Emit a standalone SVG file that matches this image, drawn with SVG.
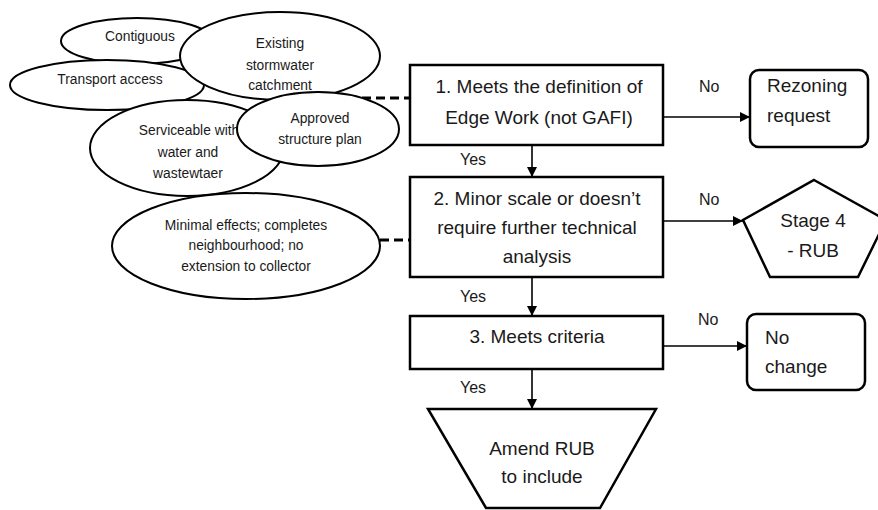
<svg xmlns="http://www.w3.org/2000/svg" width="878" height="510" viewBox="0 0 878 510">
<style>
.sh{fill:#fff;stroke:#000;stroke-width:2}
.bx{fill:#fff;stroke:#000;stroke-width:2.5}
.t{font-family:"Liberation Sans",Arial,sans-serif;fill:#1a1a1a}
.e{font-size:13.8px;text-anchor:middle}
.m{font-size:19px;text-anchor:middle}
.l{font-size:16px}
.ln{stroke:#000;stroke-width:1.6;fill:none}
.ds{stroke:#000;stroke-width:3;fill:none;stroke-dasharray:9 5}
</style>
<defs>
<marker id="ah" viewBox="0 0 10 10" refX="10" refY="5" markerWidth="10" markerHeight="10" markerUnits="userSpaceOnUse" orient="auto">
<path d="M0,0 L10,5 L0,10 Z" fill="#000"/>
</marker>
</defs>
<rect width="878" height="510" fill="#fff"/>
<g id="connectors">
<line class="ds" x1="362" y1="98" x2="410" y2="98"/>
<line class="ds" x1="380" y1="240" x2="410" y2="240"/>
<line class="ln" x1="663" y1="117" x2="750" y2="117" marker-end="url(#ah)"/>
<line class="ln" x1="532" y1="145" x2="532" y2="177" marker-end="url(#ah)"/>
<line class="ln" x1="663" y1="221" x2="743" y2="221" marker-end="url(#ah)"/>
<line class="ln" x1="532" y1="277" x2="532" y2="316" marker-end="url(#ah)"/>
<line class="ln" x1="663" y1="346" x2="747" y2="346" marker-end="url(#ah)"/>
<line class="ln" x1="532" y1="369" x2="532" y2="409" marker-end="url(#ah)"/>
<text class="t l" x="699" y="92">No</text>
<text class="t l" x="460" y="165">Yes</text>
<text class="t l" x="699" y="205">No</text>
<text class="t l" x="460" y="302">Yes</text>
<text class="t l" x="698" y="325">No</text>
<text class="t l" x="460" y="393">Yes</text>
</g>
<g id="contiguous">
<ellipse class="sh" cx="137" cy="41" rx="76" ry="23"/>
<text class="t e" x="140" y="41">Contiguous</text>
</g>
<g id="transport">
<ellipse class="sh" cx="107" cy="85" rx="97" ry="25"/>
<text class="t e" x="110" y="84">Transport access</text>
</g>
<g id="existing">
<ellipse class="sh" cx="280" cy="56" rx="100" ry="44"/>
<text class="t e" x="280" y="48">Existing</text>
<text class="t e" x="280" y="70">stormwater</text>
<text class="t e" x="280" y="90">catchment</text>
</g>
<g id="serviceable">
<ellipse class="sh" cx="187" cy="148" rx="97" ry="48"/>
<text class="t e" x="189" y="135">Serviceable with</text>
<text class="t e" x="188" y="157">water and</text>
<text class="t e" x="188" y="178">wastewtaer</text>
</g>
<g id="approved">
<ellipse class="sh" cx="318" cy="129" rx="81" ry="37"/>
<text class="t e" x="320" y="123">Approved</text>
<text class="t e" x="320" y="144">structure plan</text>
</g>
<g id="minimal">
<ellipse class="sh" cx="246" cy="246" rx="134" ry="53"/>
<text class="t e" x="246" y="230">Minimal effects; completes</text>
<text class="t e" x="246" y="250">neighbourhood; no</text>
<text class="t e" x="246" y="271">extension to collector</text>
</g>
<g id="box1">
<rect class="bx" x="410" y="65" width="253" height="80"/>
<text class="t m" x="539" y="93">1. Meets the definition of</text>
<text class="t m" x="539" y="124">Edge Work (not GAFI)</text>
</g>
<g id="rezoning">
<rect class="bx" x="750" y="70" width="118" height="77" rx="9"/>
<text class="t m" x="767" y="92" style="text-anchor:start">Rezoning</text>
<text class="t m" x="767" y="122" style="text-anchor:start">request</text>
</g>
<g id="box2">
<rect class="bx" x="410" y="177" width="253" height="100"/>
<text class="t m" x="537" y="205">2. Minor scale or doesn’t</text>
<text class="t m" x="537" y="234">require further technical</text>
<text class="t m" x="537" y="263">analysis</text>
</g>
<g id="stage4">
<polygon class="bx" points="814,180 886,220 858,277 770,277 743,220"/>
<text class="t m" x="813" y="227">Stage 4</text>
<text class="t m" x="813" y="257">- RUB</text>
</g>
<g id="box3">
<rect class="bx" x="410" y="316" width="253" height="53"/>
<text class="t m" x="537" y="343">3. Meets criteria</text>
</g>
<g id="nochange">
<rect class="bx" x="747" y="314" width="118" height="76" rx="9"/>
<text class="t m" x="765" y="344" style="text-anchor:start">No</text>
<text class="t m" x="765" y="373" style="text-anchor:start">change</text>
</g>
<g id="amend">
<polygon class="bx" points="428,409 656,409 600,508 486,508"/>
<text class="t m" x="542" y="455">Amend RUB</text>
<text class="t m" x="542" y="483">to include</text>
</g>
</svg>
